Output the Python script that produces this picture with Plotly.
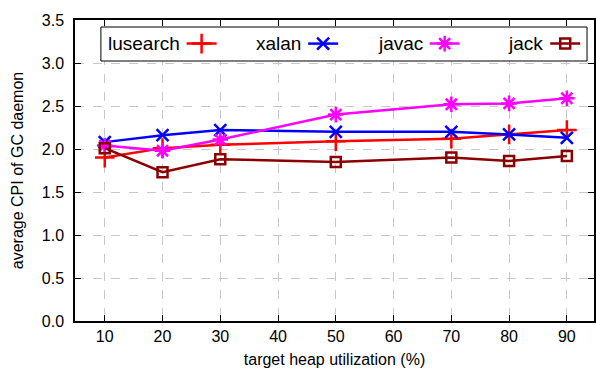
import plotly.graph_objects as go

utilization = [10, 20, 30, 50, 70, 80, 90]
lusearch = [1.90, 2.01, 2.05, 2.09, 2.12, 2.17, 2.22]
xalan = [2.08, 2.16, 2.22, 2.20, 2.20, 2.17, 2.13]
javac = [2.04, 1.98, 2.11, 2.40, 2.52, 2.53, 2.59]
jack = [2.01, 1.73, 1.88, 1.85, 1.90, 1.86, 1.92]

x_ticks = [10, 20, 30, 40, 50, 60, 70, 80, 90]
y_ticks = [0.0, 0.5, 1.0, 1.5, 2.0, 2.5, 3.0, 3.5]
series_names = ["lusearch", "xalan", "javac", "jack"]

styles = [
    dict(color="#ff0000", symbol="cross-thin-open", size=14),
    dict(color="#0000ff", symbol="x-thin-open", size=12),
    dict(color="#ff00ff", symbol="asterisk-open", size=13),
    dict(color="#8b0000", symbol="square-open", size=10),
]

FONT = "Liberation Sans, Arial, Helvetica, sans-serif"

W, H = 596, 368
ML, MR, MT, MB = 75, 0, 20, 47
PW = W - ML - MR
PH = H - MT - MB


def px_x(p):
    return (p - ML) / PW


def px_y(p):
    return 1 - (p - MT) / PH


legend_ids = ["legend", "legend2", "legend3", "legend4"]
sample_centers = [202, 324, 446, 567]
label_right_edges = [182, 304, 426, 547]
KEY_Y = 44

fig = go.Figure()
for name, ys, st, lid in zip(series_names, [lusearch, xalan, javac, jack], styles, legend_ids):
    fig.add_trace(go.Scatter(
        x=utilization, y=ys, mode="lines+markers", name="", legend=lid,
        line=dict(color=st["color"], width=2.5),
        marker=dict(symbol=st["symbol"], size=st["size"], color=st["color"],
                    line=dict(color=st["color"], width=2.5)),
    ))

# key: framed box with labels to the left of each line sample
annotations = []
legends = {}
for name, xr, xc, lid in zip(series_names, label_right_edges, sample_centers, legend_ids):
    annotations.append(dict(
        x=px_x(xr), y=px_y(KEY_Y), xref="paper", yref="paper",
        xanchor="right", yanchor="middle", text=name, showarrow=False,
        font=dict(family=FONT, size=19, color="black"),
    ))
    legends[lid] = dict(
        x=px_x(xc - 20), y=px_y(KEY_Y), xanchor="left", yanchor="middle",
        bgcolor="rgba(0,0,0,0)", borderwidth=0, itemwidth=30,
        font=dict(family=FONT, size=14),
    )

shapes = [dict(
    type="rect", xref="paper", yref="paper",
    x0=px_x(101), x1=px_x(589), y0=px_y(27), y1=px_y(61),
    line=dict(color="black", width=1), fillcolor="white", layer="above",
)]

fig.update_layout(
    width=W, height=H,
    margin=dict(l=ML, r=MR, t=MT, b=MB),
    plot_bgcolor="white", paper_bgcolor="white",
    font=dict(family=FONT, size=14, color="black"),
    showlegend=True,
    annotations=annotations,
    shapes=shapes,
    xaxis=dict(
        range=[4.85, 94.7], tickvals=x_ticks, ticktext=[str(v) for v in x_ticks],
        showline=True, linecolor="black", linewidth=1.5, mirror="ticks",
        ticks="inside", ticklen=6, tickcolor="black",
        showgrid=True, gridcolor="#c8c8c8", griddash="dash", gridwidth=1,
        zeroline=False,
        title=dict(text="target heap utilization (%)", standoff=10,
                   font=dict(family=FONT, size=16)),
        tickfont=dict(family=FONT, size=16),
    ),
    yaxis=dict(
        range=[0, 3.5], tickvals=y_ticks, ticktext=[f"{v:.1f}" for v in y_ticks],
        showline=True, linecolor="black", linewidth=1.5, mirror="ticks",
        ticks="inside", ticklen=6, tickcolor="black", ticklabelstandoff=6,
        showgrid=True, gridcolor="#c8c8c8", griddash="dash", gridwidth=1,
        zeroline=False,
        title=dict(text="average CPI of GC daemon", standoff=14,
                   font=dict(family=FONT, size=16)),
        tickfont=dict(family=FONT, size=16),
    ),
    **legends,
)

fig.write_html("out.html")
